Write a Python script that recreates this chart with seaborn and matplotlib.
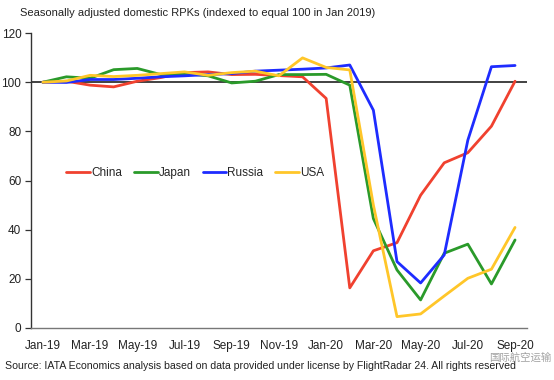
import pandas as pd
import numpy as np
import seaborn as sns
import matplotlib.pyplot as plt

sns.set_theme(style="white")
plt.rcParams["font.family"] = ["Liberation Sans", "Noto Sans CJK SC", "DejaVu Sans"]

months = ["Jan-19", "Feb-19", "Mar-19", "Apr-19", "May-19", "Jun-19", "Jul-19",
          "Aug-19", "Sep-19", "Oct-19", "Nov-19", "Dec-19", "Jan-20", "Feb-20",
          "Mar-20", "Apr-20", "May-20", "Jun-20", "Jul-20", "Aug-20", "Sep-20"]

china = [100, 100.4, 98.8, 98.1, 100.4, 101.9, 103.9, 104.2, 103.1, 103.2, 102.7,
         102.2, 93.4, 16.3, 31.4, 34.7, 54.0, 67.2, 71.3, 82.1, 100.4]
japan = [100, 102.2, 101.6, 105.1, 105.6, 103.1, 103.5, 102.6, 99.7, 100.4, 103.1,
         103.1, 103.2, 98.8, 44.5, 23.6, 11.4, 30.4, 34.1, 17.9, 35.8]
russia = [100, 99.9, 101.1, 101.1, 101.6, 102.2, 102.6, 103.1, 103.5, 104.5, 104.9,
          105.3, 105.8, 107.0, 88.6, 27.0, 18.3, 29.7, 76.4, 106.3, 106.8]
usa = [100, 100.5, 102.8, 102.3, 102.8, 103.5, 104.2, 102.8, 103.9, 104.5, 102.6,
       109.9, 106.0, 105.0, 50.0, 4.6, 5.7, 13.0, 20.2, 23.9, 40.9]

series = {"China": china, "Japan": japan, "Russia": russia, "USA": usa}
palette = {"China": "#f0412f", "Japan": "#2a9a2a", "Russia": "#1e2cff", "USA": "#ffc629"}

df = pd.DataFrame(
    [(m, name, v) for name, vals in series.items() for m, v in zip(months, vals)],
    columns=["month", "country", "rpk"],
)
df["pos"] = df["month"].map({m: i for i, m in enumerate(months)})

fig = plt.figure(figsize=(5.54, 3.80), dpi=100)
ax = fig.add_axes([0.056, 0.137, 0.895, 0.776])

ax.axhline(100, color="#333333", lw=1.3, zorder=1)
sns.lineplot(data=df, x="pos", y="rpk", hue="country", palette=palette,
             linewidth=2.0, ax=ax, sort=False, zorder=2)

ax.set_xlim(-0.5, 20.5)
ax.set_ylim(0, 120)
ax.set_yticks(range(0, 121, 20))
ax.set_xticks(range(0, 21, 2))
ax.set_xticklabels(months[::2])
ax.set_xticks(np.arange(-0.5, 20, 2), minor=True)
ax.tick_params(axis="x", which="major", length=0, labelsize=8.5, pad=9, colors="#222222")
ax.tick_params(axis="x", which="minor", length=4, width=0.9, color="#555555", direction="out")
ax.tick_params(axis="y", length=4, width=0.9, color="#333333", direction="out",
               labelsize=8.5, pad=3, left=True, colors="#222222")
ax.set_xlabel("")
ax.set_ylabel("")
sns.despine(ax=ax)
ax.spines["left"].set_color("#333333")
ax.spines["bottom"].set_color("#777777")
ax.spines["left"].set_linewidth(1.0)
ax.spines["bottom"].set_linewidth(1.0)

ax.legend(loc="center left", bbox_to_anchor=(0.05, 0.525), ncol=4, frameon=False,
          fontsize=8.5, handlelength=2.0, handletextpad=0.1, columnspacing=1.0,
          title=None)

fig.text(0.036, 0.965, "Seasonally adjusted domestic RPKs (indexed to equal 100 in Jan 2019)",
         fontsize=8.0, color="#222222", va="center", ha="left")
fig.text(0.009, 0.038,
         "Source: IATA Economics analysis based on data provided under license by FlightRadar 24. All rights reserved",
         fontsize=7.6, color="#222222", va="center", ha="left")
# watermark
fig.text(0.995, 0.059, "国际航空运输", fontsize=7.5, color="#8a8a8a", va="center", ha="right",
         alpha=0.8)

fig.savefig("out.png", dpi=100)
